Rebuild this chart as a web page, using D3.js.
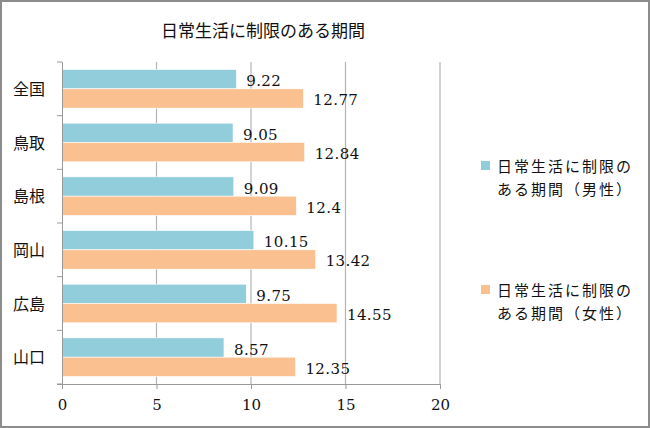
<!DOCTYPE html>
<html>
<head>
<meta charset="utf-8">
<script src="https://d3js.org/d3.v7.min.js"></script>
<style>
  body { margin: 0; background: #fff; }
</style>
</head>
<body>
<div id="chart"></div>
<script>
// data
var regions = ["全国", "鳥取", "島根", "岡山", "広島", "山口"];
var male = [9.22, 9.05, 9.09, 10.15, 9.75, 8.57];
var female = [12.77, 12.84, 12.4, 13.42, 14.55, 12.35];
var seriesNames = ["日常生活に制限のある期間（男性）", "日常生活に制限のある期間（女性）"];
var xTicks = [0, 5, 10, 15, 20];

var W = 650, H = 428;
var colors = ["#92CDDC", "#FAC090"];
var numFont = "'DejaVu Serif', 'Liberation Serif', serif";
var jpFont = "'Noto Sans CJK JP', sans-serif";

var svg = d3.select("#chart").append("svg")
  .attr("width", W).attr("height", H);

svg.append("rect")
  .attr("x", 1).attr("y", 1).attr("width", W - 2).attr("height", H - 2)
  .attr("fill", "#fff").attr("stroke", "#8c8c8c").attr("stroke-width", 2);

svg.append("text")
  .attr("x", 263).attr("y", 37)
  .attr("text-anchor", "middle")
  .style("font-family", jpFont).style("font-size", "17px")
  .attr("fill", "#111")
  .text("日常生活に制限のある期間");

var plotL = 62, plotR = 440, plotT = 62, plotB = 384;

var x = d3.scaleLinear().domain([0, 20]).range([plotL, plotR]);
var y = d3.scaleBand().domain(regions).range([plotT, plotB]).paddingInner(0).paddingOuter(0);
var inner = d3.scaleBand().domain([0, 1]).range([0, y.bandwidth()]).paddingInner(0).paddingOuter(0.39);

// gridlines
svg.append("g").selectAll("line")
  .data(xTicks.slice(1))
  .enter().append("line")
  .attr("x1", function (d) { return x(d); }).attr("x2", function (d) { return x(d); })
  .attr("y1", plotT).attr("y2", plotB)
  .attr("stroke", "#b4b4b4").attr("stroke-width", 1.2);

// bars
var series = [male, female];
series.forEach(function (vals, si) {
  var g = svg.append("g");
  g.selectAll("rect")
    .data(vals)
    .enter().append("rect")
    .attr("x", x(0))
    .attr("y", function (d, i) { return y(regions[i]) + inner(si); })
    .attr("width", function (d) { return x(d) - x(0); })
    .attr("height", inner.bandwidth())
    .attr("fill", colors[si])
    .attr("stroke", "#fff").attr("stroke-width", 0.6);
  g.selectAll("text")
    .data(vals)
    .enter().append("text")
    .attr("x", function (d) { return x(d) + 10; })
    .attr("y", function (d, i) { return y(regions[i]) + inner(si) + inner.bandwidth() / 2 + 7; })
    .style("font-family", numFont).style("font-size", "15px")
    .style("letter-spacing", "0.4px")
    .attr("fill", "#111")
    .text(function (d) { return d; });
});

// x axis
var xAxis = d3.axisBottom(x).tickValues(xTicks).tickSize(5).tickPadding(10);
var gx = svg.append("g").attr("transform", "translate(0," + plotB + ")").call(xAxis);
gx.select(".domain").attr("stroke", "#999").attr("d", "M" + (plotL - 5) + ",0.5H" + plotR);
gx.selectAll(".tick line").attr("stroke", "#999");
gx.selectAll(".tick text")
  .style("font-family", numFont).style("font-size", "15px").attr("fill", "#111");

// y axis
var gy = svg.append("g").attr("transform", "translate(" + plotL + ",0)");
gy.append("line").attr("x1", 0.5).attr("x2", 0.5).attr("y1", plotT).attr("y2", plotB)
  .attr("stroke", "#999");
var yTickPos = d3.range(regions.length + 1).map(function (i) { return plotT + i * y.step(); });
gy.selectAll("line.tk").data(yTickPos).enter().append("line")
  .attr("class", "tk")
  .attr("x1", -5).attr("x2", 0).attr("y1", function (d) { return d; }).attr("y2", function (d) { return d; })
  .attr("stroke", "#999");
gy.selectAll("text").data(regions).enter().append("text")
  .attr("x", -17)
  .attr("y", function (d) { return y(d) + y.bandwidth() / 2 + 6; })
  .attr("text-anchor", "end")
  .style("font-family", jpFont).style("font-size", "16px")
  .attr("fill", "#111")
  .text(function (d) { return d; });

// legend
var legY = [166, 290];
seriesNames.forEach(function (name, i) {
  var lg = svg.append("g");
  lg.append("rect")
    .attr("x", 481).attr("y", legY[i] - 5).attr("width", 9).attr("height", 9)
    .attr("fill", colors[i]);
  var t = lg.append("text")
    .style("font-family", jpFont).style("font-size", "15px")
    .style("letter-spacing", "2px")
    .attr("fill", "#111");
  t.append("tspan").attr("x", 497).attr("y", legY[i] + 6).text(name.slice(0, 8));
  t.append("tspan").attr("x", 497).attr("y", legY[i] + 29).text(name.slice(8));
});
</script>
</body>
</html>
